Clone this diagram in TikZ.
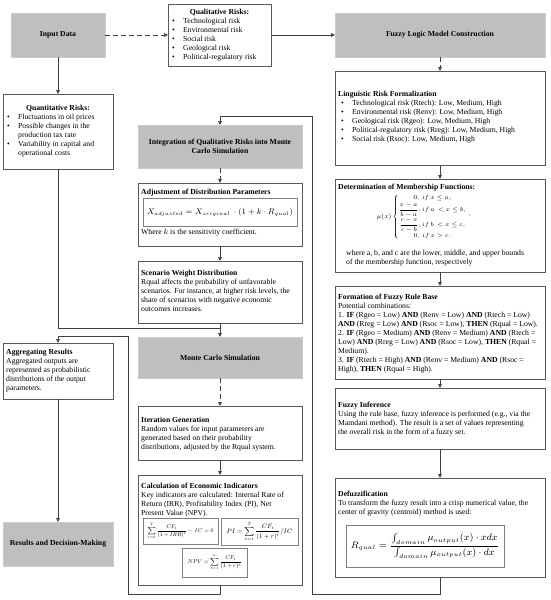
\documentclass[tikz,border=0pt]{standalone}
\usepackage{amsmath}
\usepackage{graphicx}
\usepackage[no-math]{fontspec}
\setmainfont{Liberation Serif}
\usetikzlibrary{arrows.meta,shadows}
\newcommand\fsz{\fontsize{7.7}{9}\selectfont}
\newcommand\bl{\makebox[11pt][l]{\textbullet}}
\newcommand\ind{\hspace*{11pt}}
\begin{document}
\begin{tikzpicture}[x=1pt,y=-1pt,
  font=\fsz,
  box/.style={draw=black!65, line width=0.6pt, fill=white, anchor=north west, inner sep=0pt, outer sep=0pt,
    drop shadow={shadow xshift=0.8pt, shadow yshift=-0.8pt, fill=black!25, opacity=1}},
  graybox/.style={fill=black!25, draw=black!20, line width=0.4pt, anchor=north west, inner sep=2pt, outer sep=0pt, align=center, font=\fsz\bfseries},
  fbox/.style={draw=black!50, line width=0.5pt, fill=white, anchor=north west, inner sep=0pt, outer sep=0pt},
  txt/.style={anchor=north west, inner sep=0pt, align=left},
  arr/.style={draw=black!75, line width=0.7pt, -{Triangle[length=4pt,width=3.6pt]}},
  ln/.style={draw=black!75, line width=0.7pt},
  dsh/.style={dash pattern=on 5pt off 3pt}]
\useasboundingbox[fill=white] (0,0) rectangle (550,600);

% ---------- gray boxes ----------
\node[graybox, minimum width=94pt, minimum height=44pt] (input) at (11,13) {Input Data};
\node[graybox, minimum width=210pt, minimum height=44pt] (fuzzy) at (335,13) {Fuzzy Logic Model Construction};
\node[graybox, minimum width=164pt, minimum height=43pt] (integ) at (138,125) {Integration of Qualitative Risks into Monte\\Carlo Simulation};
\node[graybox, minimum width=164pt, minimum height=41pt] (mc) at (138,337) {Monte Carlo Simulation};
\node[graybox, minimum width=110pt, minimum height=44pt] (res) at (3,522) {Results and Decision-Making};

% ---------- qualitative risks ----------
\node[box, minimum width=103pt, minimum height=62pt] (qual) at (168,4) {};
\node[anchor=north, inner sep=0pt, font=\fsz\bfseries] (qualT) at (219.5,9) {Qualitative Risks:};
\node[txt] (qualL) at (172,18) {\bl Technological risk\\ \bl Environmental risk\\ \bl Social risk\\ \bl Geological risk\\ \bl Political-regulatory risk};

% ---------- quantitative risks ----------
\node[box, minimum width=110pt, minimum height=75pt] (quant) at (3,94) {};
\node[anchor=north, inner sep=0pt, font=\fsz\bfseries] (quantT) at (58,105) {Quantitative Risks:};
\node[txt] (quantL) at (7,114) {\bl Fluctuations in oil prices\\ \bl Possible changes in the\\ \ind production tax rate\\ \bl Variability in capital and\\ \ind operational costs};

% ---------- linguistic ----------
\node[box, minimum width=210pt, minimum height=94pt] (ling) at (335,71) {};
\node[txt] (lingL) at (338,91) {\textbf{Linguistic Risk Formalization}\\
\ind\hspace*{-8pt}\bl Technological risk (Rtech): Low, Medium, High\\
\ind\hspace*{-8pt}\bl Environmental risk (Renv): Low, Medium, High\\
\ind\hspace*{-8pt}\bl Geological risk (Rgeo): Low, Medium, High\\
\ind\hspace*{-8pt}\bl Political-regulatory risk (Rreg): Low, Medium, High\\
\ind\hspace*{-8pt}\bl Social risk (Rsoc): Low, Medium, High};

% ---------- determination ----------
\node[box, minimum width=210pt, minimum height=93pt] (det) at (335,179) {};
\node[txt] (detT) at (338,184) {\textbf{Determination of Membership Functions:}};
\node[inner sep=0pt] (detF) at (424,217) {\fontsize{6}{7}\selectfont$\mu(x)\left\{\begin{array}{@{}c@{}}
 0,\,if\ x\leq a,\\[1pt]
 \dfrac{x-a}{b-a},if\ a\,<x\leq b,\\[2pt]
 \dfrac{c-x}{c-b},if\ b\,<x\leq c,\\[1pt]
 0,\,if\ x>c.
\end{array}\right.{}^{,}$};
\node[txt] (detL) at (346,250) {where a, b, and c are the lower, middle, and upper bounds\\of the membership function, respectively};

% ---------- formation ----------
\node[box, minimum width=210pt, minimum height=93pt] (form) at (335,286) {};
\node[txt] (formL) at (338,294) {\textbf{Formation of Fuzzy Rule Base}\\
Potential combinations:\\
1. \textbf{IF} (Rgeo = Low) \textbf{AND} (Renv = Low) \textbf{AND} (Rtech = Low)\\
\textbf{AND} (Rreg = Low) \textbf{AND} (Rsoc = Low), \textbf{THEN} (Rqual = Low).\\
2. \textbf{IF} (Rgeo = Medium) \textbf{AND} (Renv = Medium) \textbf{AND} (Rtech =\\
Low) \textbf{AND} (Rreg = Low) \textbf{AND} (Rsoc = Low), \textbf{THEN} (Rqual =\\
Medium).\\
3. \textbf{IF} (Rtech = High) \textbf{AND} (Renv = Medium) \textbf{AND} (Rsoc =\\
High), \textbf{THEN} (Rqual = High).};

% ---------- fuzzy inference ----------
\node[box, minimum width=210pt, minimum height=61pt] (inf) at (335,388) {};
\node[txt] (infL) at (338,402) {\textbf{Fuzzy Inference}\\
Using the rule base, fuzzy inference is performed (e.g., via the\\
Mamdani method). The result is a set of values representing\\
the overall risk in the form of a fuzzy set.};

% ---------- defuzzification ----------
\node[box, minimum width=210pt, minimum height=99pt] (defz) at (335,478) {};
\node[txt] (defzL) at (338,491) {\textbf{Defuzzification}\\
To transform the fuzzy result into a crisp numerical value, the\\
center of gravity (centroid) method is used:};
\node[fbox, minimum width=158pt, minimum height=42pt] (defzB) at (346,525) {};
\node[inner sep=0pt] (defzF) at (defzB.center) {\resizebox{148pt}{!}{$R_{qual}=\dfrac{\int_{domain}\mu_{output}(x)\cdot x dx}{\int_{domain}\mu_{output}(x)\cdot dx}$}};

% ---------- adjustment ----------
\node[box, minimum width=164pt, minimum height=63pt] (adj) at (138,183) {};
\node[txt] (adjT) at (141,189) {\textbf{Adjustment of Distribution Parameters}};
\node[fbox, minimum width=154pt, minimum height=28pt] (adjB) at (143,198) {};
\node[inner sep=0pt] (adjF) at (adjB.center) {\resizebox{146pt}{!}{$X_{adjusted}=X_{original}\,\cdot(1+k\cdot R_{qual})$}};
\node[txt] (adjL) at (141,229) {Where $k$ is the sensitivity coefficient.};

% ---------- scenario ----------
\node[box, minimum width=164pt, minimum height=62pt] (scen) at (138,261) {};
\node[txt] (scenL) at (141,270) {\textbf{Scenario Weight Distribution}\\
Rqual affects the probability of unfavorable\\
scenarios. For instance, at higher risk levels, the\\
share of scenarios with negative economic\\
outcomes increases.};

% ---------- iteration ----------
\node[box, minimum width=164pt, minimum height=54pt] (iter) at (138,406) {};
\node[txt] (iterL) at (141,417) {\textbf{Iteration Generation}\\
Random values for input parameters are\\
generated based on their probability\\
distributions, adjusted by the Rqual system.};

% ---------- calculation ----------
\node[box, minimum width=164pt, minimum height=110pt] (calc) at (138,475) {};
\node[txt] (calcL) at (141,483) {\textbf{Calculation of Economic Indicators}\\
Key indicators are calculated: Internal Rate of\\
Return (IRR), Profitability Index (PI), Net\\
Present Value (NPV).};
\node[fbox, minimum width=75pt, minimum height=26pt] (irrB) at (143,518) {};
\node[inner sep=0pt] (irrF) at (irrB.center) {\resizebox{66pt}{!}{$\displaystyle\sum_{t=0}^{T}\frac{CF_t}{(1+IRR)^t}-\,IC\,=0$}};
\node[fbox, minimum width=77pt, minimum height=27pt] (piB) at (221,518) {};
\node[inner sep=0pt] (piF) at (piB.center) {\resizebox{66pt}{!}{$PI=\displaystyle\sum_{t=1}^{T}\frac{CF_t}{(1+r)^t}/IC$}};
\node[fbox, minimum width=65pt, minimum height=29pt] (npvB) at (182,548) {};
\node[inner sep=0pt] (npvF) at (npvB.center) {\resizebox{54pt}{!}{$NPV=\displaystyle\sum_{t=1}^{n}\frac{CF_t}{(1+r)^t}$}};

% ---------- aggregating ----------
\node[box, minimum width=110pt, minimum height=56pt] (agg) at (3,343) {};
\node[txt] (aggL) at (6,349) {\textbf{Aggregating Results}\\
Aggregated outputs are\\
represented as probabilistic\\
distributions of the output\\
parameters.};

% ---------- connectors ----------
\draw[arr,dsh] (input.east) -- (qual.west);
\draw[arr] (qual.east) -- (fuzzy.west);
\draw[arr] (input.south) -- (quant.north);
\draw[arr,dsh] (fuzzy.south) -- (ling.north);
\draw[arr] (ling.south) -- (det.north);
\draw[arr] (det.south) -- (form.north);
\draw[arr] (form.south) -- (inf.north);
\draw[arr] (inf.south) -- (defz.north);
\draw[arr,dsh] (integ.south) -- (adj.north);
\draw[arr] (adj.south) -- (scen.north);
\draw[arr] (scen.south) -- (mc.north);
\coordinate (j1) at (220,328);
\draw[ln] (quant.south) |- (j1);
\draw[arr,dsh] (mc.south) -- (iter.north);
\draw[arr] (iter.south) -- (calc.north);
\coordinate (c1) at (128,594);
\coordinate (c2) at (128,336);
\draw[arr] (calc.south) |- (c1) -- (c2) -| (agg.north);
\draw[arr] (agg.south) -- (res.north);
\coordinate (d1) at (312,594);
\coordinate (d2) at (312,116);
\draw[arr] (defz.south) |- (d1) -- (d2) -| (integ.north);
\end{tikzpicture}
\end{document}
